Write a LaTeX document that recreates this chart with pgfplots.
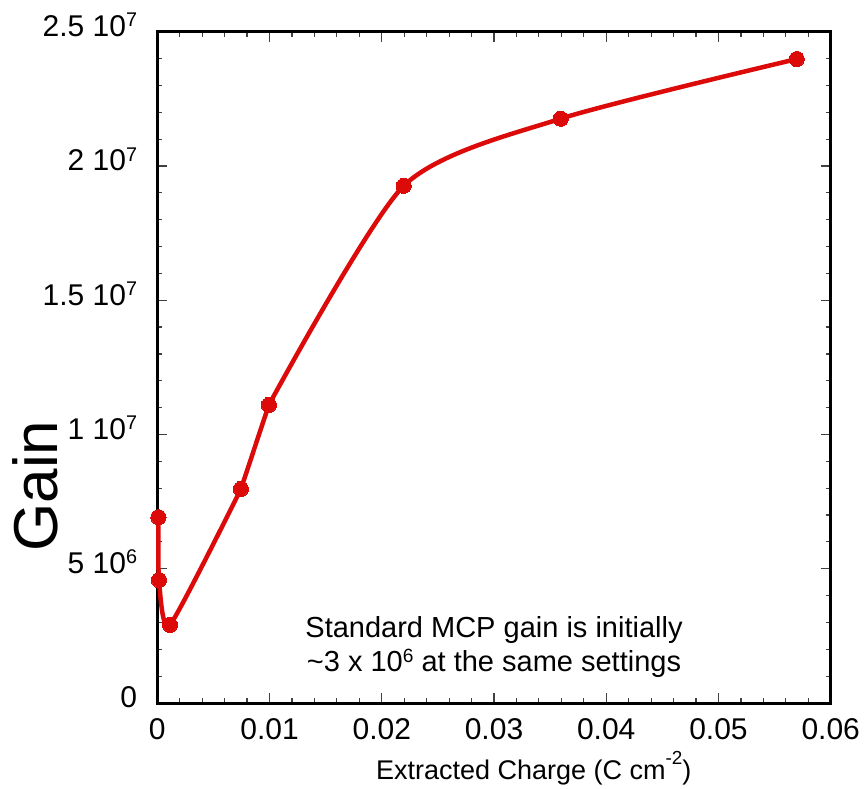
\documentclass[border=0pt]{standalone}
\usepackage{pgfplots}
\usepackage{pgfplotstable}
\pgfplotsset{compat=1.18}
\usepackage{fontspec}
\setmainfont{Liberation Sans}
\usetikzlibrary{calc}
\definecolor{curvered}{RGB}{221,10,10}
\newcommand\sups[1]{\raisebox{0.62ex}{\scalebox{0.66}{#1}}}
\newcommand\supx[1]{\raisebox{1.1ex}{\scalebox{0.7}{#1}}}
\pgfplotstableread{
x y
0.0001 6.92e6
0.00015 4.58e6
0.00113 2.91e6
0.00745 7.97e6
}\gainlow
\pgfplotstableread{
x y
0.00745 7.97e6
0.00994 1.11e7
}\gainmid
\pgfplotstableread{
x y
0.00994 1.11e7
0.02196 1.926e7
0.03594 2.176e7
0.05697 2.398e7
}\gainhigh
\begin{document}
\begin{tikzpicture}
\begin{axis}[
  scale only axis,
  width=673.4pt, height=671.3pt,
  xmin=0, xmax=0.06, ymin=0, ymax=2.5e7,
  axis line style={line width=3pt},
  xtick={0,0.01,0.02,0.03,0.04,0.05,0.06},
  xticklabels={0,0.01,0.02,0.03,0.04,0.05,0.06},
  ytick={0,5e6,1e7,1.5e7,2e7,2.5e7},
  yticklabels={0,5 10\sups{6},1 10\sups{7},1.5 10\sups{7},2 10\sups{7},2.5 10\sups{7}},
  minor x tick num=4, minor y tick num=4,
  tick align=inside,
  major tick length=10pt, minor tick length=5pt,
  every tick/.style={black!75, line width=1.2pt},
  tick label style={font=\fontsize{30}{36}\selectfont},
  xticklabel style={anchor=base, yshift=-36pt, inner sep=0pt},
  yticklabel style={anchor=base east, xshift=-20pt, yshift=-5pt, inner sep=0pt},
  /pgf/number format/assume math mode=true,
  scaled ticks=false,
  xlabel={Extracted Charge (C cm\supx{-2})},
  xlabel style={at={(axis description cs:0.559,-0.1147)}, anchor=base, font=\fontsize{27}{30}\selectfont, inner sep=0pt},
  ylabel={Gain},
  ylabel style={at={(axis description cs:-0.1475,0.323)}, anchor=base, font=\fontsize{62}{70}\selectfont, inner sep=0pt},
  clip=false,
]
\addplot[curvered, line width=4.5pt, smooth, tension=0.35, no marks, line cap=round] table {\gainlow};
\addplot[curvered, line width=4.5pt, sharp plot, no marks, line cap=round] table {\gainmid};
\addplot[curvered, line width=4.5pt, smooth, tension=0.42, no marks, line cap=round] table {\gainhigh};
\addplot[only marks, mark=*, mark size=7.6pt,
  mark options={fill=curvered, draw=curvered, line width=0pt}] table {\gainlow};
\addplot[only marks, mark=*, mark size=7.6pt,
  mark options={fill=curvered, draw=curvered, line width=0pt}] table {\gainhigh};
\node[anchor=base, font=\fontsize{29}{34}\selectfont, inner sep=0pt] at (rel axis cs:0.5,0.0969) {Standard MCP gain is initially};
\node[anchor=base, font=\fontsize{29}{34}\selectfont, inner sep=0pt] at (rel axis cs:0.5,0.0462) {\textasciitilde3 x 10\sups{6} at the same settings};
\end{axis}
\pgfresetboundingbox
\path[use as bounding box] ($(current axis.south west)+(-157.3pt,-86pt)$) rectangle ($(current axis.north east)+(36.3pt,31.7pt)$);
\end{tikzpicture}
\end{document}
